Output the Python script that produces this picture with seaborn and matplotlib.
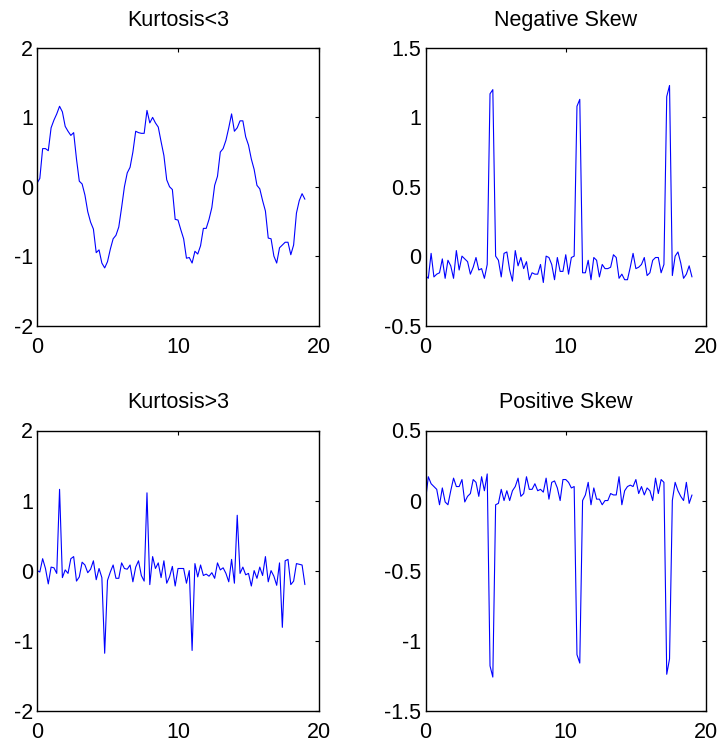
import numpy as np
import pandas as pd
import matplotlib
matplotlib.use("Agg")
import matplotlib.pyplot as plt
import seaborn as sns
from matplotlib.ticker import FuncFormatter, FixedLocator

# ---- data ----
t = np.round(np.arange(96) * 0.2, 1)

kurt_lt3 = [0.05, 0.12, 0.55, 0.55, 0.52, 0.85, 0.96, 1.05, 1.16, 1.08,
            0.87, 0.80, 0.74, 0.78, 0.40, 0.08, 0.04, -0.12, -0.36, -0.51,
            -0.61, -0.95, -0.91, -1.10, -1.17, -1.08, -0.90, -0.75, -0.70, -0.58,
            -0.30, 0.00, 0.20, 0.28, 0.50, 0.80, 0.78, 0.77, 0.77, 1.10,
            0.92, 1.00, 0.92, 0.86, 0.65, 0.45, 0.10, 0.00, -0.04, -0.47,
            -0.48, -0.62, -0.75, -1.03, -1.02, -1.10, -0.93, -0.97, -0.85, -0.60,
            -0.60, -0.47, -0.30, 0.02, 0.15, 0.50, 0.55, 0.67, 0.85, 1.05,
            0.80, 0.85, 0.95, 0.95, 0.72, 0.60, 0.40, 0.25, 0.02, -0.03,
            -0.20, -0.35, -0.74, -0.75, -1.00, -1.10, -0.88, -0.84, -0.80, -0.80,
            -0.98, -0.84, -0.38, -0.20, -0.10, -0.18]

neg_skew = [-0.14, -0.16, 0.02, -0.15, -0.13, -0.12, -0.02, -0.16, -0.03, -0.07,
            -0.16, 0.04, -0.10, 0.00, -0.02, -0.04, -0.13, -0.08, -0.01, -0.10,
            -0.09, -0.16, -0.06, 1.17, 1.20,
            0.00, -0.03, -0.15, 0.02, 0.03, -0.10, -0.18, 0.04, -0.07, -0.01,
            -0.09, -0.04, -0.17, -0.12, -0.13, -0.13, -0.06, -0.19, 0.00, -0.01,
            -0.06, -0.17, -0.01, -0.11, -0.11, 0.01, -0.13, -0.01, 0.00,
            1.08, 1.13,
            -0.12, -0.12, -0.03, -0.17, -0.01, -0.03, -0.15, -0.06, -0.09, -0.09,
            -0.08, 0.01, -0.01, -0.16, -0.13, -0.17, -0.17, -0.08, 0.02, -0.09,
            -0.08, -0.06, -0.01, -0.14, -0.12, -0.03, -0.01, -0.01, -0.12, -0.06,
            1.15, 1.23,
            -0.14, 0.00, 0.03, -0.05, -0.16, -0.13, -0.07, -0.15]

kurt_gt3 = [0.00, -0.02, 0.17, 0.03, -0.19, 0.05, 0.04, -0.04,
            1.16,
            -0.10, 0.01, -0.04, 0.17, 0.20, -0.15, -0.09, 0.12, 0.08, -0.03,
            0.02, 0.14, -0.13, 0.03, -0.10,
            -1.18,
            -0.14, -0.02, 0.08, -0.11, -0.11, 0.11, 0.03, 0.02, 0.08, -0.16,
            0.05, 0.14, -0.07, -0.15,
            1.11,
            -0.20, 0.20, 0.03, 0.11, -0.10, 0.14, -0.18, -0.09, 0.06, -0.22,
            0.03, 0.03, 0.03, -0.18, 0.00,
            -1.14,
            0.10, -0.09, 0.08, -0.07, -0.05, -0.08, -0.03, -0.11, 0.11, 0.01,
            0.04, -0.04, -0.16, 0.16, -0.18,
            0.79,
            -0.04, 0.05, -0.06, -0.04, -0.22, 0.00, -0.11, 0.05, -0.07, 0.20,
            -0.16, 0.00, -0.08, -0.21, 0.11,
            -0.81,
            0.14, 0.16, -0.20, -0.15, 0.10, 0.09, 0.08, -0.20]

pos_skew = [0.00, 0.17, 0.12, 0.10, 0.08, -0.03, 0.09, -0.01, -0.03, 0.07,
            0.16, 0.10, 0.10, 0.15, -0.01, 0.03, 0.05, 0.15, 0.13, 0.03,
            0.17, 0.07, 0.19,
            -1.18, -1.26,
            -0.03, -0.02, 0.08, 0.00, 0.07, 0.00, 0.07, 0.10, 0.16, 0.03,
            0.05, 0.17, 0.08, 0.08, 0.12, 0.07, 0.08, 0.06, 0.16, 0.01,
            0.13, 0.14, 0.09, 0.00, 0.15, 0.15, 0.13, 0.09, 0.10,
            -1.10, -1.16,
            0.00, 0.04, 0.13, -0.03, 0.09, 0.01, 0.01, -0.03, 0.00, 0.00,
            0.05, 0.04, 0.04, 0.17, -0.03, 0.07, 0.10, 0.11, 0.10, 0.15,
            0.05, 0.10, 0.04, 0.09, 0.07, 0.00, 0.16, 0.05, 0.15, 0.13,
            -1.24, -1.13,
            0.00, 0.13, 0.07, 0.03, 0.00, 0.13, -0.02, 0.04]

titles = ["Kurtosis<3", "Negative Skew", "Kurtosis>3", "Positive Skew"]
series = [kurt_lt3, neg_skew, kurt_gt3, pos_skew]
ylims = [(-2, 2), (-0.5, 1.5), (-2, 2), (-1.5, 0.5)]
yticks = [[-2, -1, 0, 1, 2], [-0.5, 0, 0.5, 1, 1.5], [-2, -1, 0, 1, 2], [-1.5, -1, -0.5, 0, 0.5]]
xticks = [0, 10, 20]

# ---- style ----
sns.set_theme(style="white")
plt.rcParams["font.family"] = ["Liberation Sans", "DejaVu Sans"]
plt.rcParams["axes.unicode_minus"] = False

W, H = 722, 744
fig = plt.figure(figsize=(W / 100, H / 100), dpi=100)

# pixel boxes: left, top, right, bottom
boxes = [(37, 48, 319, 325.5), (425.5, 48, 706, 325.5),
         (37, 430.5, 319, 710.7), (425.5, 430.5, 706, 710.7)]

fmt = FuncFormatter(lambda v, p: ("%g" % v))

for i in range(4):
    l, tp, r, b = boxes[i]
    ax = fig.add_axes([l / W, 1 - b / H, (r - l) / W, (b - tp) / H])
    df = pd.DataFrame({"t": t, "v": series[i]})
    sns.lineplot(data=df, x="t", y="v", ax=ax, color="#0000ff", linewidth=0.8)
    ax.set_xlim(0, 20)
    ax.set_ylim(*ylims[i])
    ax.xaxis.set_major_locator(FixedLocator(xticks))
    ax.yaxis.set_major_locator(FixedLocator(yticks[i]))
    ax.xaxis.set_major_formatter(fmt)
    ax.yaxis.set_major_formatter(fmt)
    ax.set_xlabel("")
    ax.set_ylabel("")
    ax.tick_params(axis="both", direction="in", top=True, right=True,
                   length=3, width=0.8, colors="black", labelsize=15.5)
    ax.tick_params(axis="x", pad=8)
    ax.tick_params(axis="y", pad=3)
    for s in ax.spines.values():
        s.set_color("black")
        s.set_linewidth(1.0)
    ax.set_facecolor("white")
    ax.set_title(titles[i], fontsize=15.5, pad=16, color="black")

fig.savefig("out.png", dpi=100, facecolor="white")
